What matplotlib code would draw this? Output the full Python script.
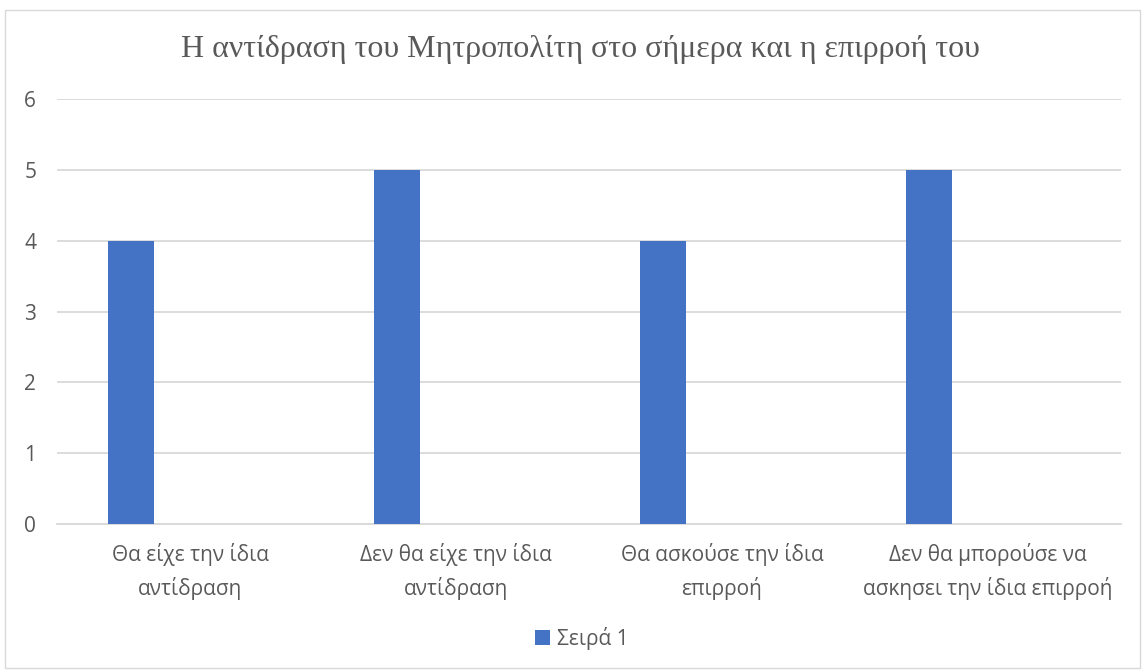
import matplotlib
matplotlib.use("Agg")
import matplotlib.pyplot as plt
from matplotlib.patches import Rectangle

categories = ["Θα είχε την ίδια\nαντίδραση", "Δεν θα είχε την ίδια\nαντίδραση",
              "Θα ασκούσε την ίδια\nεπιρροή", "Δεν θα μπορούσε να\nασκησει την ίδια επιρροή"]
values = [4, 5, 4, 5]
series_name = "Σειρά 1"
title = "Η αντίδραση του Μητροπολίτη στο σήμερα και η επιρροή του"
yticks = [0, 1, 2, 3, 4, 5, 6]

W, H = 1143, 670
fig = plt.figure(figsize=(W / 100, H / 100), dpi=100)
fig.patch.set_facecolor("white")
fig.add_artist(Rectangle((5 / W, 2 / H), (W - 8) / W, (H - 12) / H, transform=fig.transFigure,
                         fill=False, edgecolor="#d9d9d9", linewidth=1))

left, right, top, bottom = 57, 1121, 99, 524
ax = fig.add_axes([left / W, 1 - bottom / H, (right - left) / W, (bottom - top) / H])
ax.set_facecolor("none")

xs = list(range(len(categories)))
offset = -0.222
width = 0.173
ax.bar([x + offset for x in xs], values, width=width, color="#4472C4", zorder=3, label=series_name)

fs = 15
ax.set_xlim(-0.5, len(categories) - 0.5)
ax.set_ylim(0, 6)
ax.set_yticks(yticks)
ax.set_yticklabels([str(v) for v in yticks], fontsize=fs, color="#595959", family="Open Sans")
ax.yaxis.grid(True, color="#d9d9d9", linewidth=1.3, zorder=0)
ax.set_xticks(xs)
ax.set_xticklabels(categories, fontsize=fs, color="#595959", family="Open Sans", linespacing=1.6)
ax.tick_params(axis="both", length=0)
ax.tick_params(axis="y", pad=15)
ax.tick_params(axis="x", pad=14)
for s in ["top", "right", "left"]:
    ax.spines[s].set_visible(False)
ax.spines["bottom"].set_color("#d9d9d9")
ax.spines["bottom"].set_linewidth(1.3)

fig.text(580 / W, 1 - 50 / H, title, ha="center", va="center", fontsize=23,
         family="Liberation Serif", color="#595959")

leg = fig.legend(loc="center", bbox_to_anchor=(582 / W, 1 - 638 / H), frameon=False,
                 prop={"family": "Open Sans", "size": fs}, handlelength=0.7, handleheight=0.7,
                 handletextpad=0.35)
for t in leg.get_texts():
    t.set_color("#595959")

fig.savefig("out.png", dpi=100, facecolor="white")
